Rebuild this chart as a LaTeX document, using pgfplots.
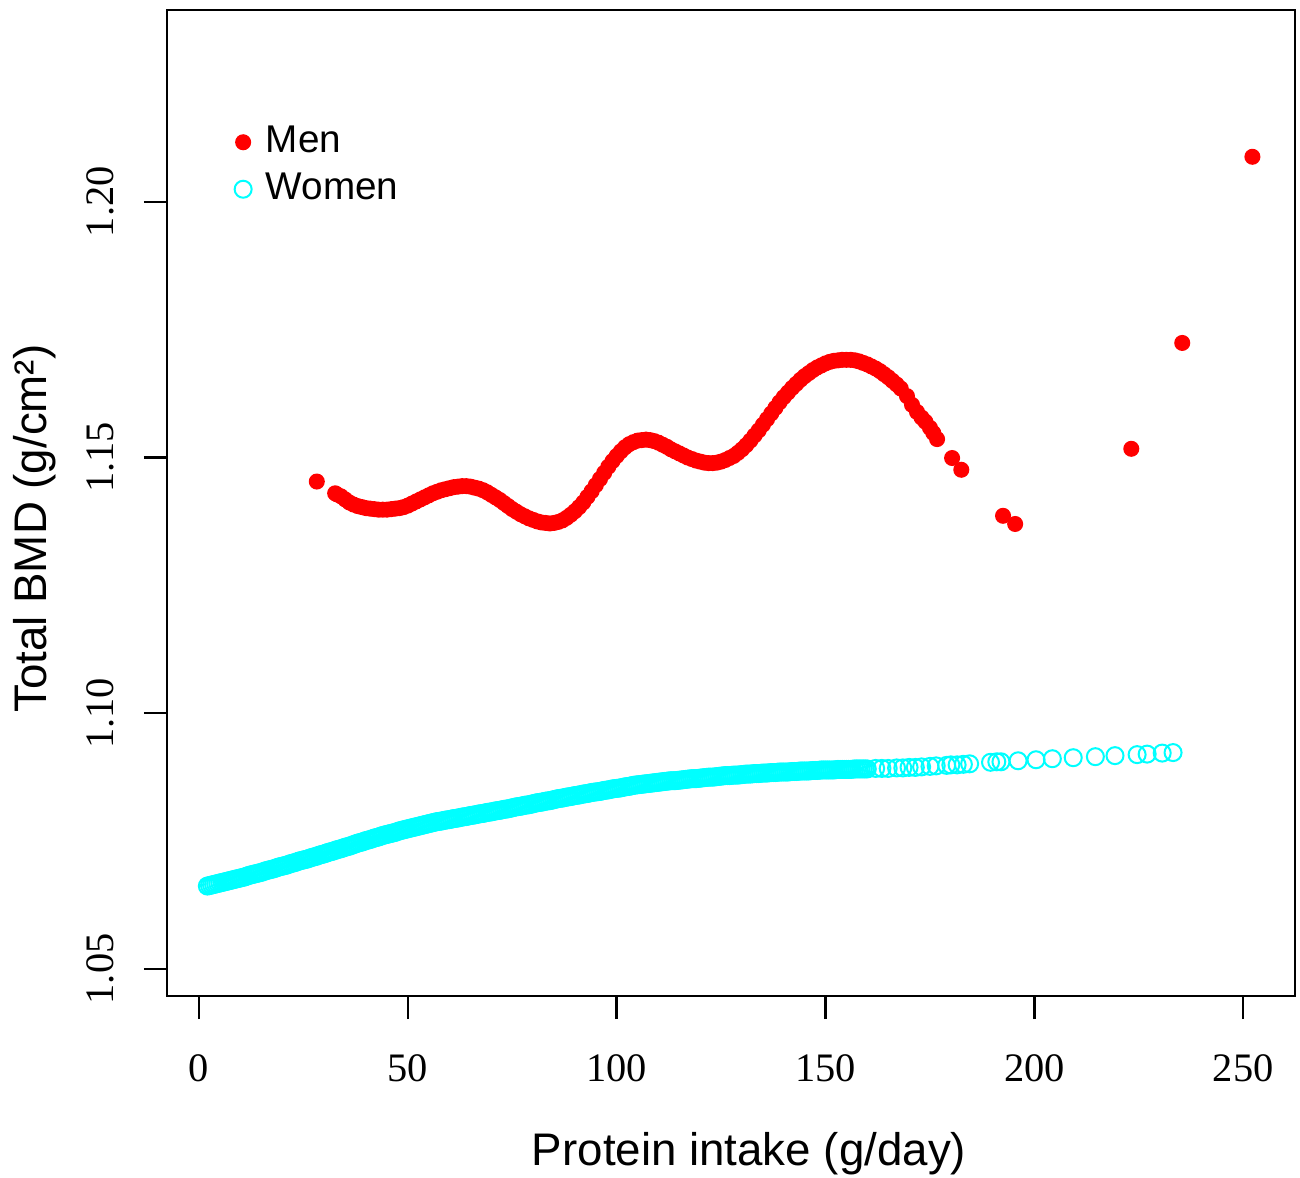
\documentclass[border=0pt]{standalone}
\usepackage{pgfplots}
\pgfplotsset{compat=1.18}
\usepackage{fontspec}
\setmainfont{Liberation Sans}
\newfontfamily\tickfont{Liberation Serif}
\definecolor{menred}{RGB}{255,0,0}
\definecolor{womencyan}{RGB}{0,255,255}

\begin{document}
\begin{tikzpicture}
\begin{axis}[
    scale only axis,
    width=11.28cm, height=9.86cm,
    xmin=-7.66, xmax=262.4,
    ymin=1.0447, ymax=1.2375,
    axis line style={line width=0.7pt},
    every tick/.style={black, line width=0.7pt},
    tick align=outside,
    major tick length=2.3mm,
    xtick={0,50,100,150,200,250},
    xticklabels={0,50,100,150,200,250},
    ytick={1.05,1.10,1.15,1.20},
    yticklabels={1.05,1.10,1.15,1.20},
    xtick pos=bottom, ytick pos=left,
    ticklabel style={font=\tickfont\fontsize{11.5}{12}\selectfont},
    xticklabel style={anchor=center, yshift=-0.49cm},
    yticklabel style={xshift=-0.44cm, rotate=90, anchor=center},
    xlabel={Protein intake (g/day)},
    ylabel={Total BMD (g/cm²)},
    label style={font=\fontsize{13}{15}\selectfont},
    xlabel style={at={(axis description cs:0.516,-0.160)}, anchor=center},
    ylabel style={at={(axis description cs:-0.117,0.474)}, anchor=center},
    legend style={at={(axis description cs:0.05,0.897)}, anchor=north west,
        draw=none, fill=none, font=\fontsize{11}{13}\selectfont,
        row sep=0.3pt},
    legend image code/.code={%
        \draw[mark repeat=2,mark phase=2] plot coordinates {(0cm,0cm) (0.3cm,0cm) (0.6cm,0cm)};
        \path (0.45cm,0cm);},
    legend cell align=left,
]
% men: fitted values, dense along the curve
\addplot[only marks, mark=*, mark size=2.08pt, color=menred, mark options={fill=menred, draw=menred}] coordinates {
(28.2,1.1453) (32.6,1.1430) (33,1.1428) (34,1.1424) (35,1.1418) (36,1.1412) (37,1.1408)
(38,1.1405) (39,1.1403) (40,1.1401) (41,1.1400) (42,1.1399) (43,1.1398) (44,1.1398)
(45,1.1398) (46,1.1399) (47,1.1400) (48,1.1401) (49,1.1403) (50,1.1406) (51,1.1410)
(52,1.1414) (53,1.1418) (54,1.1422) (55,1.1426) (56,1.1430) (57,1.1433) (58,1.1436)
(59,1.1438) (60,1.1440) (61,1.1442) (62,1.1443) (63,1.1444) (64,1.1444) (65,1.1443)
(66,1.1441) (67,1.1439) (68,1.1436) (69,1.1432) (70,1.1427) (71,1.1422) (72,1.1417)
(73,1.1411) (74,1.1405) (75,1.1399) (76,1.1394) (77,1.1389) (78,1.1385) (79,1.1381)
(80,1.1378) (81,1.1375) (82,1.1373) (83,1.1372) (84,1.1371) (85,1.1372) (86,1.1374)
(87,1.1377) (88,1.1382) (89,1.1388) (90,1.1395) (91,1.1403) (92,1.1412) (93,1.1423)
(94,1.1434) (95,1.1446) (96,1.1458) (97,1.1470) (98,1.1482) (99,1.1493) (100,1.1503)
(101,1.1512) (102,1.1520) (103,1.1526) (104,1.1530) (105,1.1533) (106,1.1534) (107,1.1535)
(108,1.1534) (109,1.1532) (110,1.1529) (111,1.1525) (112,1.1521) (113,1.1516) (114,1.1512)
(115,1.1508) (116,1.1504) (117,1.1500) (118,1.1497) (119,1.1494) (120,1.1492) (121,1.1490)
(122,1.1489) (123,1.1489) (124,1.1490) (125,1.1492) (126,1.1495) (127,1.1499) (128,1.1503)
(129,1.1509) (130,1.1516) (131,1.1524) (132,1.1533) (133,1.1543) (134,1.1553) (135,1.1564)
(136,1.1575) (137,1.1586) (138,1.1597) (139,1.1608) (140,1.1618) (141,1.1627) (142,1.1636)
(143,1.1644) (144,1.1652) (145,1.1659) (146,1.1665) (147,1.1671) (148,1.1676) (149,1.1680)
(150,1.1684) (151,1.1687) (152,1.1689) (153,1.1690) (154,1.1691) (155,1.1691) (156,1.1691)
(157,1.1690) (158,1.1688) (159,1.1685) (160,1.1682) (161,1.1678) (162,1.1674) (163,1.1669)
(164,1.1663) (165,1.1657) (166,1.1650) (167,1.1643) (168,1.1635) (169.5,1.1620) (170.7,1.1603)
(171.9,1.1589) (173.0,1.1578) (173.9,1.1570) (175.0,1.1558) (175.8,1.1548) (176.7,1.1536)
(180.3,1.1499) (182.5,1.1476) (192.5,1.1386) (195.4,1.1370) (223.2,1.1517) (235.4,1.1724)
(252.2,1.2088)
};
\addlegendentry{Men}
% women: dense band up to ~160, sparse after
\addplot[only marks, mark=o, mark size=2.42pt, color=womencyan, mark options={draw=womencyan, line width=0.57pt}] coordinates {
(2,1.0662) (2.5,1.0663) (3,1.0664) (3.5,1.0665) (4,1.0666) (4.5,1.0667) (5,1.0668) (5.5,1.0669)
(6,1.0670) (6.5,1.0671) (7,1.0672) (7.5,1.0673) (8,1.0674) (8.5,1.0675) (9,1.0676) (9.5,1.0677)
(10,1.0678) (10.5,1.0679) (11,1.0680) (11.5,1.06815) (12,1.0683) (12.5,1.0684) (13,1.0685)
(13.5,1.0686) (14,1.0687) (14.5,1.0688) (15,1.0689) (15.5,1.06905) (16,1.0692) (16.5,1.0693)
(17,1.0694) (17.5,1.0695) (18,1.0696) (18.5,1.06975) (19,1.0699) (19.5,1.0700) (20,1.0701)
(20.5,1.0702) (21,1.0703) (21.5,1.07045) (22,1.0706) (22.5,1.0707) (23,1.0708) (23.5,1.07095)
(24,1.0711) (24.5,1.0712) (25,1.0713) (25.5,1.0714) (26,1.0715) (26.5,1.07165) (27,1.0718)
(27.5,1.0719) (28,1.0720) (28.5,1.07215) (29,1.0723) (29.5,1.0724) (30,1.0725) (30.5,1.07265)
(31,1.0728) (31.5,1.0729) (32,1.0730) (32.5,1.07315) (33,1.0733) (33.5,1.0734) (34,1.0735)
(34.5,1.07365) (35,1.0738) (35.5,1.0739) (36,1.0740) (36.5,1.07415) (37,1.0743) (37.5,1.07445)
(38,1.0746) (38.5,1.0747) (39,1.0748) (39.5,1.07495) (40,1.0751) (40.5,1.0752) (41,1.0753)
(41.5,1.07545) (42,1.0756) (42.5,1.0757) (43,1.0758) (43.5,1.07595) (44,1.0761) (44.5,1.0762)
(45,1.0763) (45.5,1.0764) (46,1.0765) (46.5,1.0766) (47,1.0767) (47.5,1.07685) (48,1.0770)
(48.5,1.0771) (49,1.0772) (49.5,1.0773) (50,1.0774) (50.5,1.0775) (51,1.0776) (51.5,1.0777)
(52,1.0778) (52.5,1.0779) (53,1.0780) (53.5,1.0781) (54,1.0782) (54.5,1.0783) (55,1.0784)
(55.5,1.0785) (56,1.0786) (56.5,1.0787) (57,1.0788) (57.5,1.07885) (58,1.0789) (58.5,1.0790)
(59,1.0791) (59.5,1.07915) (60,1.0792) (60.5,1.0793) (61,1.0794) (61.5,1.07945) (62,1.0795)
(62.5,1.0796) (63,1.0797) (63.5,1.07975) (64,1.0798) (64.5,1.0799) (65,1.0800) (65.5,1.08005)
(66,1.0801) (66.5,1.0802) (67,1.0803) (67.5,1.08035) (68,1.0804) (68.5,1.0805) (69,1.0806)
(69.5,1.08065) (70,1.0807) (70.5,1.0808) (71,1.0809) (71.5,1.08095) (72,1.0810) (72.5,1.0811)
(73,1.0812) (73.5,1.08125) (74,1.0813) (74.5,1.0814) (75,1.0815) (75.5,1.0816) (76,1.0817)
(76.5,1.08175) (77,1.0818) (77.5,1.0819) (78,1.0820) (78.5,1.08205) (79,1.0821) (79.5,1.0822)
(80,1.0823) (80.5,1.0824) (81,1.0825) (81.5,1.08255) (82,1.0826) (82.5,1.0827) (83,1.0828)
(83.5,1.08285) (84,1.0829) (84.5,1.0830) (85,1.0831) (85.5,1.0832) (86,1.0833) (86.5,1.08335)
(87,1.0834) (87.5,1.0835) (88,1.0836) (88.5,1.08365) (89,1.0837) (89.5,1.0838) (90,1.0839)
(90.5,1.08395) (91,1.0840) (91.5,1.0841) (92,1.0842) (92.5,1.08425) (93,1.0843) (93.5,1.0844)
(94,1.0845) (94.5,1.08455) (95,1.0846) (95.5,1.08465) (96,1.0847) (96.5,1.0848) (97,1.0849)
(97.5,1.08495) (98,1.0850) (98.5,1.0851) (99,1.0852) (99.5,1.08525) (100,1.0853) (100.5,1.08535)
(101,1.0854) (101.5,1.0855) (102,1.0856) (102.5,1.08565) (103,1.0857) (103.5,1.0858) (104,1.0859)
(104.5,1.08595) (105,1.0860) (105.5,1.08605) (106,1.0861) (106.5,1.08615) (107,1.0862)
(107.5,1.08625) (108,1.0863) (108.5,1.08635) (109,1.0864) (109.5,1.08645) (110,1.0865)
(110.5,1.08655) (111,1.0866) (111.5,1.08665) (112,1.0867) (112.5,1.08675) (113,1.0868)
(113.5,1.0868) (114,1.0868) (114.5,1.08685) (115,1.0869) (115.5,1.08695) (116,1.0870)
(116.5,1.08705) (117,1.0871) (117.5,1.08715) (118,1.0872) (118.5,1.0872) (119,1.0872)
(119.5,1.08725) (120,1.0873) (120.5,1.08735) (121,1.0874) (121.5,1.08745) (122,1.0875)
(122.5,1.0875) (123,1.0875) (123.5,1.08755) (124,1.0876) (124.5,1.08765) (125,1.0877)
(125.5,1.08775) (126,1.0878) (126.5,1.0878) (127,1.0878) (127.5,1.08785) (128,1.0879)
(128.5,1.0879) (129,1.0879) (129.5,1.08795) (130,1.0880) (130.5,1.08805) (131,1.0881)
(131.5,1.0881) (132,1.0881) (132.5,1.08815) (133,1.0882) (133.5,1.0882) (134,1.0882)
(134.5,1.08825) (135,1.0883) (135.5,1.0883) (136,1.0883) (136.5,1.08835) (137,1.0884)
(137.5,1.0884) (138,1.0884) (138.5,1.08845) (139,1.0885) (139.5,1.0885) (140,1.0885)
(140.5,1.0885) (141,1.0885) (141.5,1.08855) (142,1.0886) (142.5,1.0886) (143,1.0886)
(143.5,1.08865) (144,1.0887) (144.5,1.0887) (145,1.0887) (145.5,1.0887) (146,1.0887)
(146.5,1.08875) (147,1.0888) (147.5,1.0888) (148,1.0888) (148.5,1.08885) (149,1.0889)
(149.5,1.0889) (150,1.0889) (150.5,1.0889) (151,1.0889) (151.5,1.0889) (152,1.0889)
(152.5,1.08895) (153,1.0890) (153.5,1.0890) (154,1.0890) (154.5,1.0890) (155,1.0890)
(155.5,1.0890) (156,1.0890) (156.5,1.08905) (157,1.0891) (157.5,1.0891) (158,1.0891)
(158.5,1.0891) (159,1.0891) (159.5,1.0891) (160,1.0891) (162,1.0892)
(163.5,1.0892) (165,1.0892) (167,1.0893) (168.5,1.0893) (170,1.0894) (171.5,1.0894)
(173,1.0895) (175,1.0896) (176.5,1.0897) (179,1.0898) (180,1.0899) (181.5,1.0899)
(183,1.0900) (184.5,1.0901) (189.5,1.0904) (191,1.0905) (192,1.0905) (196.1,1.0907)
(200.4,1.0909) (204.3,1.0911) (209.3,1.0913) (214.6,1.0915) (219.3,1.0917) (224.6,1.0919)
(227,1.0920) (230.6,1.0922) (233.2,1.0923)
};
\addlegendentry{Women}
\end{axis}
\pgfresetboundingbox
\path[use as bounding box] ([shift={(-1.67cm,-1.81cm)}]current axis.south west) rectangle ([shift={(0.05cm,0.1cm)}]current axis.north east);
\end{tikzpicture}
\end{document}
